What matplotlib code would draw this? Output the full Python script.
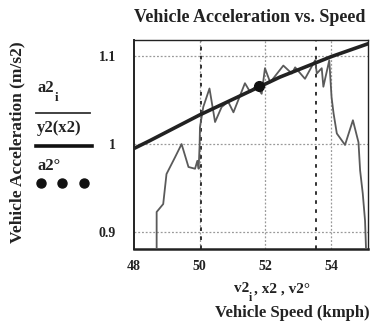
import matplotlib
matplotlib.use('Agg')
import matplotlib.pyplot as plt
from matplotlib.lines import Line2D

# measured data (a2_i vs v2_i)
v2 = [48.69, 48.69, 48.89, 48.99, 49.25, 49.45, 49.66, 49.86, 49.93, 49.97,
      50.00, 50.01, 50.11, 50.30, 50.47, 50.67, 50.87, 51.03, 51.38, 51.54,
      51.72, 51.89, 51.99, 52.15, 52.55, 52.81, 52.91, 53.21, 53.52, 53.57,
      53.72, 53.77, 53.95, 54.02, 54.08, 54.18, 54.43, 54.67, 54.84, 54.89,
      54.97, 55.04, 55.08]
a2 = [0.870, 0.923, 0.932, 0.966, 0.985, 1.000, 0.974, 0.972, 0.981, 0.972,
      1.000, 1.019, 1.042, 1.063, 1.025, 1.042, 1.048, 1.036, 1.069, 1.059,
      1.066, 1.057, 1.086, 1.070, 1.089, 1.080, 1.087, 1.074, 1.095, 1.080,
      1.086, 1.065, 1.095, 1.053, 1.035, 1.012, 0.999, 1.027, 1.002, 0.970,
      0.944, 0.913, 0.870]

# fitted curve y2(x2)
x2 = [48.0, 48.49, 50.0, 52.45, 54.0, 55.15]
y2 = [0.995, 1.004, 1.033, 1.076, 1.099, 1.114]

# single operating point a2° at v2°
v2o = [51.81]
a2o = [1.066]

# vertical markers
markers_x = [50.03, 53.55]

xticks = [48, 50, 52, 54]
yticks = [0.9, 1.0, 1.1]
yticklabels = ['0.9', '1', '1.1']

W, H = 370, 323
fig = plt.figure(figsize=(W / 100, H / 100), dpi=100)
ax = fig.add_axes([134 / W, 1 - 249 / H, (368 - 134) / W, (249 - 40) / H])

serif = ['Liberation Serif', 'DejaVu Serif']

ax.set_xlim(48, 55.13)
ax.set_ylim(0.881, 1.118)

# grid
for x in [50, 52, 54]:
    ax.axvline(x, color='#999999', lw=0.9, ls=(0, (1.5, 1.5)), zorder=1)
for y in yticks:
    ax.axhline(y, color='#999999', lw=0.9, ls=(0, (1.5, 1.5)), zorder=1)

for mx in markers_x:
    ax.axvline(mx, color='#222222', lw=1.3, ls=(0, (2, 3)), zorder=2)

ax.plot(v2, a2, color='#5a5a5a', lw=1.3, zorder=3)
ax.plot(x2, y2, color='#222222', lw=2.6, zorder=4)
ax.plot(v2o, a2o, 'o', color='#111111', ms=7, zorder=5)

ax.set_xticks(xticks)
ax.set_xticklabels([str(t) for t in xticks])
ax.set_yticks(yticks)
ax.set_yticklabels(yticklabels)
ax.tick_params(axis='x', length=0, labelsize=10, pad=8)
ax.tick_params(axis='y', length=0, labelsize=10, pad=13)
for lab in ax.get_xticklabels() + ax.get_yticklabels():
    lab.set_fontfamily(serif)
    lab.set_fontweight('bold')
    lab.set_color('#222222')

for s in ax.spines.values():
    s.set_color('#222222')
    s.set_linewidth(1.0)
ax.spines['bottom'].set_linewidth(1.8)
ax.spines['left'].set_linewidth(1.4)

tkw = dict(fontfamily=serif, fontweight='bold', color='#222222')

fig.text(250 / W, 1 - 18 / H, 'Vehicle Acceleration vs. Speed',
         ha='center', va='center', fontsize=13, **tkw)
fig.text(17 / W, 1 - 142 / H, 'Vehicle Acceleration (m/s2)',
         ha='center', va='center', rotation=90, fontsize=12.5, **tkw)

# legend on the left (Mathcad style)
fig.text(37 / W, 1 - 88 / H, 'a2', ha='left', va='center', fontsize=12, **tkw)
fig.text(55 / W, 1 - 98 / H, 'i', ha='left', va='center', fontsize=9.5, **tkw)
fig.add_artist(Line2D([36 / W, 90 / W], [1 - 113 / H, 1 - 113 / H],
                      color='#333333', lw=1.3, transform=fig.transFigure))
fig.text(37 / W, 1 - 128 / H, 'y2(x2)', ha='left', va='center', fontsize=12, **tkw)
fig.add_artist(Line2D([36 / W, 92 / W], [1 - 146 / H, 1 - 146 / H],
                      color='#111111', lw=2.6, transform=fig.transFigure))
fig.text(37 / W, 1 - 166 / H, 'a2°', ha='left', va='center', fontsize=12, **tkw)
fig.add_artist(Line2D([41 / W, 62 / W, 84 / W], [1 - 183 / H] * 3,
                      ls='none', marker='o', ms=6.5, color='#111111',
                      transform=fig.transFigure))

# x axis labels
fig.text(234 / W, 1 - 289 / H, 'v2', ha='left', va='center', fontsize=11, **tkw)
fig.text(249 / W, 1 - 298 / H, 'i', ha='left', va='center', fontsize=8.5, **tkw)
fig.text(254 / W, 1 - 289 / H, ', x2 , v2°', ha='left', va='center', fontsize=11, **tkw)
fig.text(292 / W, 1 - 313 / H, 'Vehicle Speed (kmph)', ha='center', va='center',
         fontsize=12, **tkw)

fig.savefig('out.png', dpi=100)
